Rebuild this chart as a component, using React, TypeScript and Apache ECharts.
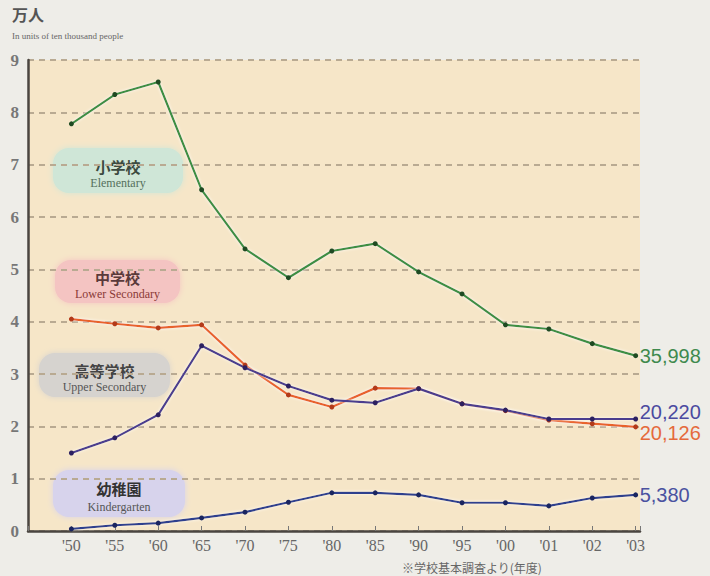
import React, { useEffect, useRef } from "react";
import * as echarts from "echarts";

const categories = ["'50", "'55", "'60", "'65", "'70", "'75", "'80", "'85", "'90", "'95", "'00", "'01", "'02", "'03"];
const elementary = [7.78, 8.34, 8.58, 6.52, 5.39, 4.84, 5.35, 5.49, 4.95, 4.53, 3.94, 3.86, 3.58, 3.35];
const lowerSecondary = [4.05, 3.96, 3.88, 3.94, 3.17, 2.6, 2.37, 2.73, 2.72, 2.43, 2.3, 2.12, 2.05, 1.99];
const upperSecondary = [1.49, 1.78, 2.22, 3.54, 3.12, 2.77, 2.5, 2.45, 2.72, 2.43, 2.31, 2.14, 2.14, 2.14];
const kindergarten = [0.04, 0.11, 0.15, 0.25, 0.36, 0.55, 0.73, 0.73, 0.69, 0.54, 0.54, 0.48, 0.63, 0.69];
const endLabels = ["35,998", "20,126", "20,220", "5,380"];
const seriesNames = ["小学校", "中学校", "高等学校", "幼稚園"];
const seriesNamesEn = ["Elementary", "Lower Secondary", "Upper Secondary", "Kindergarten"];
const yTicks = [0, 1, 2, 3, 4, 5, 6, 7, 8, 9];

const toPairs = (arr: number[]) => arr.map((v, i) => [i, v]);

export default function App() {
  const ref = useRef<HTMLDivElement>(null);
  useEffect(() => {
    if (!ref.current) return;
    const chart = echarts.init(ref.current, null, { renderer: "svg" });
    const mk = (
      name: string,
      data: number[],
      color: string,
      markerColor: string,
      label: string,
      labelColor: string,
      offset: number[]
    ) => ({
      name,
      type: "line",
      data: toPairs(data),
      symbol: "circle",
      symbolSize: 5,
      itemStyle: { color: markerColor },
      lineStyle: {
        color,
        width: 2.2,
        shadowColor: "rgba(255,255,255,0.9)",
        shadowBlur: 3,
      },
      z: 3,
      endLabel: {
        show: true,
        formatter: label,
        color: labelColor,
        fontSize: 20,
        fontFamily: "Liberation Sans, Arial, sans-serif",
        distance: 4,
        offset,
      },
    });
    const box = (
      x: number,
      y: number,
      w: number,
      h: number,
      fill: string,
      jp: string,
      en: string,
      jpColor: string,
      enColor: string
    ) => ({
      type: "group",
      children: [
        {
          type: "rect",
          shape: { x, y, width: w, height: h, r: 16 },
          style: { fill, shadowColor: fill, shadowBlur: 6 },
        },
        {
          type: "text",
          style: {
            x: x + w / 2,
            y: y + h * 0.4,
            text: jp,
            fill: jpColor,
            font: "bold 15px 'Noto Sans CJK JP', sans-serif",
            align: "center",
            verticalAlign: "middle",
          },
        },
        {
          type: "text",
          style: {
            x: x + w / 2,
            y: y + h * 0.78,
            text: en,
            fill: enColor,
            font: "12px 'Liberation Serif', serif",
            align: "center",
            verticalAlign: "middle",
          },
        },
      ],
    });
    chart.setOption({
      animation: false,
      backgroundColor: "#eeede8",
      grid: {
        left: 28,
        right: 70,
        top: 60,
        bottom: 45,
        show: true,
        backgroundColor: "#f6e6c8",
        borderWidth: 0,
      },
      xAxis: {
        type: "value",
        min: -1,
        max: 13.1,
        interval: 1,
        axisLine: { show: true, onZero: false, lineStyle: { color: "#4a4540", width: 2.5 } },
        axisTick: { show: true, inside: true, length: 5, lineStyle: { color: "#777", width: 1 } },
        splitLine: { show: false },
        axisLabel: {
          margin: 6,
          color: "#666",
          fontSize: 16,
          fontFamily: "Liberation Serif, serif",
          showMinLabel: true,
          showMaxLabel: true,
          formatter: (v: number) =>
            Number.isInteger(v) && v >= 0 && v < categories.length ? categories[v] : "",
        },
      },
      yAxis: {
        type: "value",
        min: 0,
        max: 9,
        interval: 1,
        axisLine: { show: true, onZero: false, lineStyle: { color: "#4a4540", width: 2.5 } },
        axisTick: { show: false },
        splitLine: {
          show: true,
          lineStyle: { color: "#b9aa92", width: 2, type: [6, 5] },
        },
        axisLabel: {
          margin: 9,
          color: "#777",
          fontSize: 17,
          fontWeight: "bold",
          fontFamily: "Liberation Serif, serif",
          formatter: (v: number) => (yTicks.indexOf(v) >= 0 ? String(v) : ""),
        },
      },
      series: [
        mk(seriesNames[0], elementary, "#3d8f43", "#1f4a22", endLabels[0], "#3f8a4e", [0, 0]),
        mk(seriesNames[1], lowerSecondary, "#e8622c", "#b23a1a", endLabels[1], "#e56a3c", [0, 6]),
        mk(seriesNames[2], upperSecondary, "#4c3c8e", "#2c2060", endLabels[2], "#4b4aa0", [0, -7]),
        mk(seriesNames[3], kindergarten, "#2e3f8e", "#1a2560", endLabels[3], "#4a52a0", [0, 0]),
      ],
      graphic: [
        {
          type: "text",
          left: 12,
          top: 6,
          style: { text: "万人", fill: "#555", font: "bold 16px 'Noto Sans CJK JP', sans-serif" },
        },
        {
          type: "text",
          left: 12,
          top: 31,
          style: { text: "In units of ten thousand people", fill: "#666", font: "9px 'Liberation Serif', serif" },
        },
        {
          type: "text",
          left: 402,
          top: 561,
          style: { text: "※学校基本調査より(年度)", fill: "#666", font: "12px 'Noto Sans CJK JP', sans-serif" },
        },
        box(53, 148, 130, 45, "#cfe6d7", seriesNames[0], seriesNamesEn[0], "#3c4a40", "#55705c"),
        box(55, 260, 125, 43, "#f4c4c2", seriesNames[1], seriesNamesEn[1], "#5a3a3a", "#8a3a36"),
        box(39, 353, 131, 44, "#d6d3cf", seriesNames[2], seriesNamesEn[2], "#444", "#555"),
        box(53, 470, 132, 47, "#d7d3ec", seriesNames[3], seriesNamesEn[3], "#333", "#555"),
      ],
    });
    return () => chart.dispose();
  }, []);
  return (
    <div
      ref={ref}
      style={{ position: "fixed", left: 0, top: 0, width: 710, height: 576 }}
    />
  );
}
